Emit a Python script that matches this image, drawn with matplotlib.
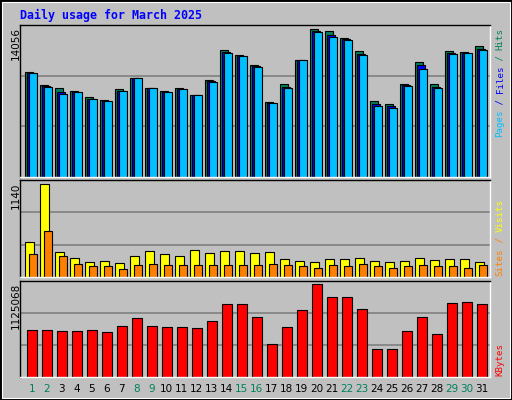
import matplotlib
matplotlib.use("Agg")
import matplotlib.pyplot as plt
from matplotlib.patches import Rectangle
import numpy as np

days = list(range(1, 32))
weekend = [1, 2, 8, 9, 15, 16, 22, 23, 29, 30]
hits = [9985, 8713, 8427, 8173, 7568, 7314, 8332, 9381, 8427, 8173, 8427, 7759, 9190, 12052, 11575, 10621,
        7123, 8809, 11098, 14056, 13865, 13197, 11957, 7187, 6901, 8809, 10907, 8809, 11957, 11861, 12434]
files = [9900, 8600, 8100, 8100, 7450, 7250, 8200, 9381, 8427, 8100, 8380, 7759, 9080, 11900, 11520, 10520,
         7060, 8550, 11098, 13900, 13500, 13100, 11700, 6900, 6700, 8700, 10600, 8550, 11800, 11800, 12200]
pages = [9858, 8522, 7855, 8045, 7378, 7187, 8141, 9381, 8427, 8045, 8332, 7759, 8999, 11766, 11480, 10430,
         6996, 8427, 11098, 13769, 13292, 13006, 11575, 6710, 6519, 8618, 10240, 8427, 11671, 11766, 12052]
visits = [436, 1140, 313, 239, 189, 202, 177, 263, 325, 288, 263, 337, 300, 325, 325, 300,
          313, 226, 202, 189, 226, 226, 239, 202, 189, 202, 239, 214, 226, 226, 189]
sites = [288, 560, 263, 165, 140, 140, 103, 152, 165, 152, 152, 152, 152, 152, 152, 152,
         165, 152, 140, 115, 152, 140, 165, 140, 115, 140, 152, 140, 140, 115, 152]
kbytes = [564600, 564600, 552400, 552400, 564600, 540200, 613300, 710800, 613300, 601100, 601100, 589000,
          674200, 881400, 881400, 723000, 406200, 601100, 808300, 1125068, 966700, 966700, 820500, 345300,
          345300, 552400, 723000, 515900, 893600, 905800, 881400]

W, H = 512, 400
fig = plt.figure(figsize=(W/100, H/100), dpi=100)
fig.patch.set_facecolor("#C0C0C0")
fig.patches.append(Rectangle((0.5/W, 0.5/H), 1-1/W, 1-1/H, transform=fig.transFigure,
                             fill=False, edgecolor="black", lw=1.5))
fig.patches.append(Rectangle((2/W, 2/H), 1-4/W, 1-4/H, transform=fig.transFigure,
                             fill=False, edgecolor="white", lw=0.8))

mono = "DejaVu Sans Mono"
x = np.array(days)
px = 15.0  # pixels per day

def mkax(top, bottom):
    ax = fig.add_axes([20/W, 1-bottom/H, 470/W, (bottom-top)/H])
    ax.set_facecolor("#C0C0C0")
    ax.set_xlim(1-11.7/px, 31+8.3/px)
    ax.set_xticks([]); ax.set_yticks([])
    for s in ax.spines.values():
        s.set_color("black"); s.set_linewidth(1)
    ax.spines["right"].set_color("white"); ax.spines["bottom"].set_color("white")
    return ax

def grid(ax, top):
    for f in (1/3, 2/3):
        ax.axhline(top*f, color="#808080", lw=1.2, zorder=0)

ekw = dict(edgecolor="black", linewidth=0.8, align="edge", zorder=2)

ax1 = mkax(25, 177)
t1 = max(hits)/0.974
ax1.set_ylim(0, t1); grid(ax1, t1)
ax1.bar(x-6.4/px, hits, width=7.3/px, color="#00805c", **ekw)
ax1.bar(x-4.4/px, files, width=7.3/px, color="#0000FF", **ekw)
ax1.bar(x-2.4/px, pages, width=7.3/px, color="#00C0FF", **ekw)

ax2 = mkax(180, 277)
t2 = max(visits)/0.956
ax2.set_ylim(0, t2); grid(ax2, t2)
ax2.bar(x-6.4/px, visits, width=8.3/px, color="#FFFF00", **ekw)
ax2.bar(x-2.4/px, sites, width=7.3/px, color="#FF8000", **ekw)

ax3 = mkax(281, 377)
t3 = max(kbytes)/0.966
ax3.set_ylim(0, t3); grid(ax3, t3)
ax3.bar(x-5/px, kbytes, width=10/px, color="#FF0000", **ekw)

fig.text(20/W, 1-15/H, "Daily usage for March 2025", color="#0000FF", family=mono,
         weight="bold", fontsize=8.4, va="center", ha="left")

for txt, ytop in (("14056", 27), ("1140", 183), ("1125068", 283)):
    fig.text(16/W, 1-ytop/H, txt, rotation=90, family="DejaVu Sans", fontsize=7.5,
             va="top", ha="center", color="black")

def side(pieces, ybottom, cw=5.45):
    y = ybottom
    for txt, col in pieces:
        fig.text(500/W, 1-y/H, txt, rotation=90, family=mono, fontsize=6.6,
                 va="bottom", ha="center", color=col)
        y -= len(txt)*cw

side([("Pages", "#00C0FF"), (" / ", "#0000FF"), ("Files", "#0000FF"), (" / ", "#00805c"), ("Hits", "#00805c")], 137)
side([("Sites", "#FF8000"), (" / ", "#FF8000"), ("Visits", "#FFFF00")], 276, cw=5.5)
side([("KBytes", "#FF0000")], 376, cw=5.5)

for d in days:
    fig.text((31.7 + (d-1)*px)/W, 1-389/H, str(d), ha="center", va="center",
             fontsize=7.5, family="DejaVu Sans",
             color="#00805c" if d in weekend else "black")

fig.savefig("out.png", dpi=100, facecolor=fig.get_facecolor())
